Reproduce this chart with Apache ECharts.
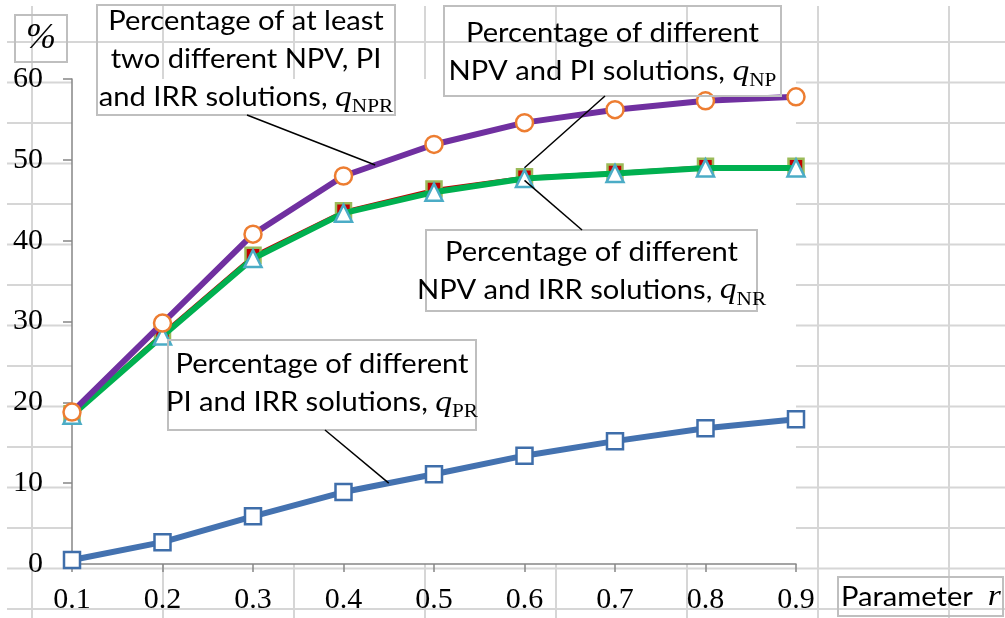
<!DOCTYPE html>
<html>
<head>
<meta charset="utf-8">
<script src="https://cdn.jsdelivr.net/npm/echarts@6/dist/echarts.min.js"></script>
<style>
html,body{margin:0;padding:0;background:#fff;}
#c{width:1005px;height:618px;}
</style>
</head>
<body>
<div id="c"></div>
<script>
// ---- data ----
const categories = ['0.1','0.2','0.3','0.4','0.5','0.6','0.7','0.8','0.9'];
const qPR  = [0.5, 2.7, 5.9, 8.9, 11.1, 13.4, 15.2, 16.8, 17.9];
const qNP  = [18.6, 28.6, 38.2, 43.7, 46.4, 47.9, 48.5, 49.2, 49.2];
const qNR  = [18.4, 28.2, 37.8, 43.4, 46.0, 47.7, 48.3, 49.0, 49.0];
const qNPR = [18.8, 29.8, 40.8, 48.0, 51.9, 54.6, 56.2, 57.3, 57.8];
const yMin = 0, yMax = 60, yStep = 10;

// ---- layout ----
const G = {left: 72, top: 79, right: 1005 - 796, bottom: 618 - 564};
const PL = 72, PT = 79, PR = 796, PB = 564;
const SERIF = "'Liberation Serif', 'Times New Roman', serif";
const SANS = "Lato, 'Open Sans', sans-serif";
const GRID_C = '#d6d6d6';
const STRETCH = 1.12;

const chart = echarts.init(document.getElementById('c'), null, {renderer: 'canvas'});

const option = {
  backgroundColor: '#ffffff',
  animation: false,
  grid: Object.assign({containLabel: false, outerBoundsMode: 'none', show: true, backgroundColor: '#ffffff', borderWidth: 0}, G),
  xAxis: {
    type: 'category', data: categories, boundaryGap: false,
    axisLine: {lineStyle: {color: '#868686', width: 1.5}},
    axisTick: {show: true, inside: false, length: 8, alignWithLabel: true, lineStyle: {color: '#868686', width: 1.5}},
    axisLabel: {color: '#000', fontFamily: SERIF, fontSize: 30, margin: 21},
    splitLine: {show: false}
  },
  yAxis: {
    type: 'value', min: yMin, max: yMax, interval: yStep,
    axisLine: {show: true, lineStyle: {color: '#868686', width: 1.5}},
    axisTick: {show: true, inside: false, length: 9, lineStyle: {color: '#868686', width: 1.5}},
    axisLabel: {color: '#000', fontFamily: SERIF, fontSize: 30, margin: 29},
    splitLine: {show: false}
  },
  series: [
    {name: 'qPR', type: 'line', data: qPR, symbol: 'rect', symbolSize: 16,
     lineStyle: {color: '#4472b0', width: 6}, itemStyle: {color: '#fff', borderColor: '#3f6eaa', borderWidth: 2.5}, z: 2},
    {name: 'qNP', type: 'line', data: qNP, symbol: 'rect', symbolSize: 15,
     lineStyle: {color: '#c00000', width: 2}, itemStyle: {color: '#c00000', borderColor: '#9bbb59', borderWidth: 2.5}, z: 3},
    {name: 'qNR', type: 'line', data: qNR, symbol: 'triangle', symbolSize: 17,
     lineStyle: {color: '#00b050', width: 6}, itemStyle: {color: '#fff', borderColor: '#4bacc6', borderWidth: 2.5}, z: 4},
    {name: 'qNPR', type: 'line', data: qNPR, symbol: 'circle', symbolSize: 17,
     lineStyle: {color: '#7030a0', width: 6}, itemStyle: {color: '#fff', borderColor: '#ed7d31', borderWidth: 2.5}, z: 5}
  ]
};
chart.setOption(option);

// ---- spreadsheet background grid ----
const rowYs = [];
for (let k = 0; k < 15; k++) rowYs.push(42 + 40.5 * k);
const colXs = [];
for (let k = 0; k < 8; k++) colXs.push(32 + 131 * k);
const gl = [];
function seg(x1, y1, x2, y2) {
  gl.push({type: 'line', silent: true, z: -10, shape: {x1, y1, x2, y2}, style: {stroke: GRID_C, lineWidth: 2}});
}
rowYs.forEach(y => {
  if (y < PT - 1 || y > PB + 1) seg(7, y, 1005, y);
  else { seg(7, y, PL, y); seg(PR, y, 1005, y); }
});
colXs.forEach(x => {
  if (x < PL - 1 || x > PR + 1) seg(x, 6, x, 618);
  else { seg(x, 6, x, PT); seg(x, PB, x, 618); }
});

// ---- annotation boxes ----
const rich = {
  a: {fontFamily: SANS, fontSize: 26, color: '#000', lineHeight: 38},
  q: {fontFamily: SERIF, fontStyle: 'italic', fontSize: 30, color: '#000', lineHeight: 38},
  s: {fontFamily: SERIF, fontSize: 19, color: '#000', lineHeight: 24, verticalAlign: 'bottom'}
};
function box(x, y, w, h, text, opts) {
  opts = opts || {};
  const left = opts.align === 'left';
  return [
    {type: 'rect', z: 50, silent: true, shape: {x, y, width: w, height: h},
     style: {fill: 'rgba(255,255,255,0)', stroke: '#bfbfbf', lineWidth: 2}},
    {type: 'text', z: 51, silent: true, x: left ? x + 3 : x + w / 2, y: y + h / 2 + (opts.dy || 0),
     scaleX: opts.scaleX || STRETCH,
     style: {text, rich: Object.assign({}, rich, opts.rich || {}), align: left ? 'left' : 'center', verticalAlign: 'middle'}}
  ];
}
const boxes = [].concat(
  box(97, 5, 298, 110, '{a|Percentage of at least}\n{a|two different NPV, PI}\n{a|and IRR solutions, }{q|q}{s|NPR}'),
  box(444, 6, 337, 90, '{a|Percentage of different}\n{a|NPV and PI solutions, }{q|q}{s|NP}', {dy: 2}),
  box(426, 230, 331, 81, '{a|Percentage of different}\n{a|NPV and IRR solutions, }{q|q}{s|NR}', {dy: 1}),
  box(168, 340, 308, 90, '{a|Percentage of different}\n{a|PI and IRR solutions, }{q|q}{s|PR}', {dy: -1}),
  box(15, 15, 52, 47, '{p|%}', {scaleX: 1, rich: {p: {fontFamily: SERIF, fontStyle: 'italic', fontSize: 36, color: '#000'}}}),
  box(838, 577, 165, 39, '{a|Parameter  }{q|r}', {align: 'left', dy: 1})
);

// ---- leader lines (anchored to data via the axes) ----
function px(si, i, v) { return chart.convertToPixel({seriesIndex: si}, [i, v]); }
function lerp(a, b, t) { return [a[0] + (b[0] - a[0]) * t, a[1] + (b[1] - a[1]) * t]; }
const leaders = [];
function leader(p1, p2) {
  leaders.push({type: 'line', z: 60, silent: true, shape: {x1: p1[0], y1: p1[1], x2: p2[0], y2: p2[1]},
    style: {stroke: '#000', lineWidth: 1.5}});
}
// q_NPR
leader([247, 115], lerp(px(3, 3, qNPR[3]), px(3, 4, qNPR[4]), 0.35));
// q_NP
const np6 = px(1, 5, qNP[5]);
leader([605, 96], [np6[0], np6[1] - 9]);
// q_NR
const nr6 = px(2, 5, qNR[5]);
leader([nr6[0], nr6[1] + 2], [582, 230]);
// q_PR
leader([325, 430], lerp(px(0, 3, qPR[3]), px(0, 4, qPR[4]), 0.5));

chart.setOption({graphic: {elements: gl.concat(boxes, leaders)}});
</script>
</body>
</html>
